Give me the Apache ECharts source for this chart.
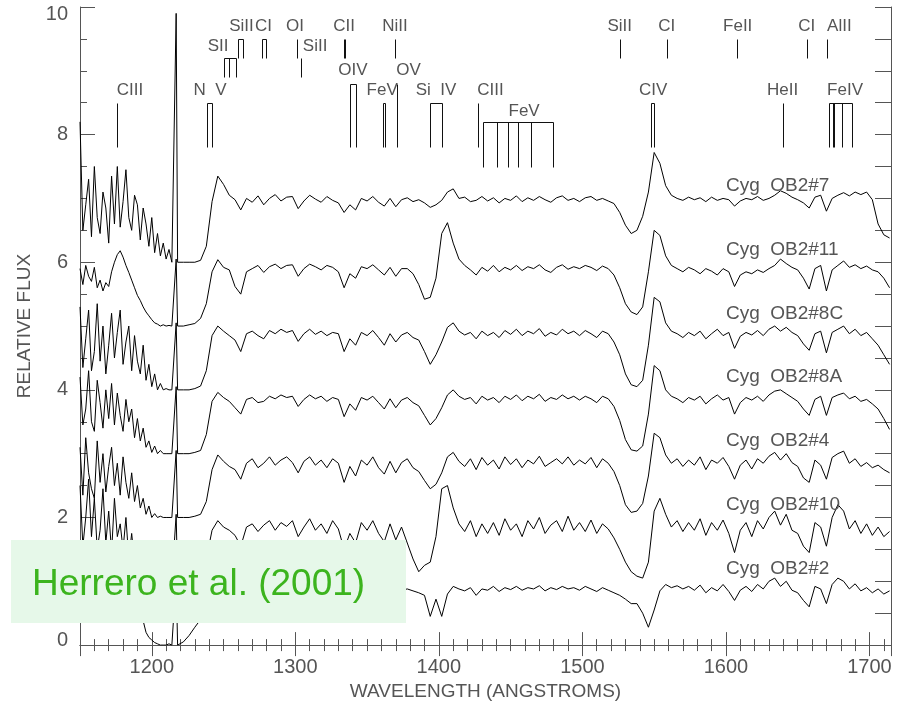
<!DOCTYPE html>
<html><head><meta charset="utf-8">
<script src="https://cdn.jsdelivr.net/npm/echarts@6/dist/echarts.min.js"></script>
<style>html,body{margin:0;padding:0;background:#fff}#c{width:898px;height:706px}</style>
</head><body><div id="c"></div>
<script>
// wavelength grid (Angstrom)
const wave = [1150,1152,1154,1156,1158,1160,1162,1164,1166,1168,1170,1172,1174,1176,1178,1180,1182,1184,1186,1188,1190,1192,1194,1196,1198,1200,1202,1204,1206,1208,1210,1212,1214,
1217,
1218,1222,1226,1230,1234,1238,1242,1246,1250,1254,
1258,1262,1266,1270,1274,1278,1282,1286,1290,1294,
1298,1302,1306,1310,1314,1318,1322,1326,1330,1334,
1338,1342,1346,1350,1354,1358,1362,1366,1370,1374,
1378,1382,1386,1390,1394,1398,1402,1406,1410,1414,
1418,1422,1426,1430,1434,1438,1442,1446,1450,1454,
1458,1462,1466,1470,1474,1478,1482,1486,1490,1494,
1498,1502,1506,1510,1514,1518,1522,1526,1530,1534,
1538,1542,1546,1550,1554,1558,1562,1566,1570,1574,
1578,1582,1586,1590,1594,1598,1602,1606,1610,1614,
1618,1622,1626,1630,1634,1638,1642,1646,1650,1654,
1658,1662,1666,1670,1674,1678,1682,1686,1690,1694,
1698,1702,1706,1710,1714];

// normalized fluxes (continuum ~1, zero = 0)
const f7 = [2.2,0.5,0.9,1.3,0.4,1.5,0.7,0.45,1.1,0.85,0.3,1.35,0.6,1.5,0.55,0.95,1.45,0.7,0.5,1.05,0.9,0.35,0.85,0.6,0.25,0.7,0.15,0.45,0.1,0.3,0.05,0.2,0.0,
3.9,
0,0,0,0,0.03,0.25,0.95,1.35,1.22,1.05,
0.98,0.82,1.0,0.94,1.04,0.9,1.0,1.06,0.96,1.02,
1.03,0.84,0.96,1.05,0.99,0.94,1.03,0.97,0.93,0.78,
0.9,0.82,1.0,0.96,1.03,0.94,0.88,1.0,0.87,0.98,
1.01,0.95,0.98,0.93,0.86,0.9,0.97,1.1,1.15,1.0,
1.02,0.95,0.97,1.03,0.96,1.01,0.93,1.0,0.97,1.04,
0.95,1.01,0.97,1.03,0.98,0.94,1.01,1.04,0.97,1.0,
0.95,1.01,1.03,0.97,1.0,0.96,0.92,0.78,0.58,0.45,
0.5,0.72,1.1,1.72,1.55,1.2,1.05,1.0,0.97,1.02,
0.98,1.01,0.95,1.02,0.97,1.0,0.98,0.88,0.96,1.0,
0.98,1.03,0.97,1.0,1.05,1.12,1.08,1.02,0.98,0.93,
0.85,1.02,1.05,0.8,1.0,1.05,1.09,1.04,1.1,1.06,
1.1,0.98,0.6,0.43,0.38];

const f11 = [0.9,0.65,0.95,0.78,0.7,0.92,0.6,0.72,0.55,0.68,0.62,0.85,1.0,1.12,1.18,1.08,0.95,0.84,0.72,0.6,0.48,0.4,0.3,0.22,0.16,0.1,0.05,0.03,0.0,0.02,0.0,0.01,0.0,
1.05,
0,0,0.02,0.04,0.12,0.35,0.85,1.04,0.92,0.88,
0.62,0.5,0.85,0.9,0.95,0.84,0.93,0.97,0.9,0.95,
0.96,0.78,0.9,0.97,0.93,0.88,0.95,0.92,0.85,0.6,
0.82,0.75,0.93,0.9,0.96,0.88,0.8,0.92,0.78,0.9,
0.9,0.82,0.65,0.42,0.45,0.75,1.45,1.62,1.3,1.05,
0.95,0.88,0.8,0.92,0.86,0.95,0.85,0.92,0.88,0.95,
0.87,0.93,0.9,0.96,0.88,0.84,0.92,0.96,0.89,0.93,
0.9,0.95,0.92,0.87,0.94,0.9,0.8,0.6,0.35,0.22,
0.18,0.3,0.85,1.5,1.42,1.1,0.95,0.9,0.85,0.92,
0.88,0.82,0.9,0.86,0.8,0.9,0.85,0.62,0.8,0.85,
0.82,0.88,0.84,0.9,0.95,1.05,0.98,0.92,0.88,0.75,
0.58,0.9,0.95,0.55,0.88,0.95,1.02,0.92,0.96,0.9,
0.94,0.88,0.85,0.75,0.6];

const f8C = [1.3,0.35,0.8,1.25,0.3,0.6,1.35,0.45,1.0,0.25,0.7,1.2,0.5,0.9,1.25,0.4,0.75,1.0,0.3,0.85,0.45,0.25,0.7,0.15,0.4,0.05,0.25,0.0,0.1,0.0,0.02,0.0,0.0,
1.05,
0,0,0,0.02,0.06,0.3,0.85,1.0,0.92,0.85,
0.78,0.6,0.88,0.92,0.85,0.8,0.93,0.88,0.95,0.9,
0.93,0.76,0.88,0.95,0.87,0.92,0.85,0.9,0.88,0.6,
0.8,0.7,0.9,0.85,0.93,0.82,0.7,0.88,0.75,0.86,
0.9,0.82,0.78,0.6,0.4,0.55,0.75,0.98,1.05,0.92,
0.86,0.9,0.8,0.92,0.85,0.9,0.82,0.93,0.87,0.95,
0.85,0.92,0.88,0.96,0.84,0.9,0.86,0.95,0.88,0.92,
0.85,0.93,0.88,0.82,0.92,0.88,0.75,0.55,0.25,0.08,
0.05,0.15,0.7,1.45,1.38,1.05,0.92,0.88,0.82,0.9,
0.85,0.92,0.8,0.88,0.95,0.85,0.9,0.65,0.84,0.9,
0.86,0.93,0.85,0.95,1.0,0.92,0.98,0.9,0.85,0.72,
0.62,0.88,0.92,0.58,0.9,0.95,1.0,0.88,0.95,0.85,
0.9,0.8,0.7,0.55,0.4];

const f8A = [1.2,0.45,0.7,1.3,0.5,0.35,1.15,0.8,0.4,1.0,0.55,1.1,0.45,0.95,0.6,0.35,0.85,0.5,0.7,0.25,0.55,0.2,0.4,0.1,0.2,0.02,0.12,0.0,0.05,0.0,0.0,0.0,0.0,
1.05,
0,0,0,0.02,0.05,0.3,0.82,0.96,0.88,0.82,
0.72,0.62,0.85,0.88,0.8,0.82,0.9,0.86,0.92,0.88,
0.9,0.74,0.85,0.92,0.86,0.9,0.82,0.88,0.85,0.58,
0.78,0.68,0.88,0.84,0.9,0.8,0.7,0.86,0.72,0.84,
0.88,0.8,0.75,0.6,0.45,0.55,0.72,0.92,1.0,0.9,
0.85,0.88,0.78,0.9,0.84,0.88,0.8,0.9,0.85,0.92,
0.83,0.9,0.86,0.93,0.82,0.88,0.85,0.92,0.86,0.9,
0.84,0.9,0.86,0.8,0.9,0.86,0.74,0.52,0.22,0.06,
0.04,0.12,0.62,1.38,1.3,1.0,0.9,0.86,0.8,0.88,
0.84,0.9,0.78,0.86,0.92,0.84,0.88,0.62,0.8,0.88,
0.84,0.9,0.82,0.92,0.98,1.0,0.94,0.88,0.82,0.7,
0.6,0.85,0.9,0.6,0.88,0.92,0.95,0.86,0.9,0.82,
0.85,0.78,0.7,0.55,0.38];

const f4 = [1.1,0.35,1.25,0.7,0.45,0.3,1.2,0.55,1.0,0.4,0.8,1.1,0.5,0.85,0.35,0.95,0.55,0.3,0.7,0.25,0.5,0.15,0.3,0.05,0.18,0.0,0.06,0.0,0.02,0.0,0.0,0.0,0.0,
1.05,
0,0,0,0.02,0.05,0.25,0.75,0.98,0.88,0.8,
0.75,0.6,0.85,0.92,0.78,0.85,0.95,0.82,0.9,0.95,
0.86,0.7,0.88,0.95,0.82,0.9,0.78,0.92,0.85,0.55,
0.8,0.65,0.9,0.82,0.95,0.78,0.68,0.88,0.7,0.86,
0.92,0.78,0.72,0.58,0.45,0.52,0.7,0.95,1.02,0.88,
0.8,0.92,0.75,0.94,0.82,0.9,0.76,0.95,0.83,0.92,
0.78,0.9,0.84,0.96,0.8,0.86,0.92,0.84,0.95,0.82,
0.9,0.84,0.94,0.78,0.92,0.85,0.72,0.5,0.2,0.08,
0.1,0.22,0.65,1.32,1.25,0.98,0.85,0.92,0.8,0.9,
0.82,0.95,0.75,0.9,0.85,0.94,0.8,0.6,0.82,0.9,
0.76,0.92,0.85,0.96,1.02,0.9,1.0,0.86,0.8,0.62,
0.55,0.9,0.82,0.6,0.94,1.0,1.04,0.85,0.92,0.8,
0.86,0.78,0.82,0.75,0.7];

const f10 = [1.5,0.55,1.0,1.6,0.7,1.3,0.5,0.8,1.45,0.6,1.1,0.45,1.3,0.7,0.9,0.5,1.0,0.35,0.75,0.3,0.55,0.2,0.3,0.1,0.15,0.02,0.05,0.0,0.0,0.0,0.0,0.0,0.0,
1.05,
0,0,0,0.03,0.1,0.35,0.8,0.95,0.85,0.8,
0.72,0.55,0.85,0.9,0.78,0.88,0.95,0.8,0.92,0.86,
0.95,0.7,0.85,0.98,0.8,0.9,0.75,0.95,0.82,0.5,
0.75,0.6,0.92,0.8,0.95,0.75,0.62,0.9,0.65,0.85,
0.6,0.35,0.15,0.25,0.3,0.7,1.45,1.5,1.15,0.9,
0.78,0.95,0.7,0.9,0.75,0.92,0.72,0.98,0.8,0.9,
0.7,0.95,0.82,1.0,0.75,0.88,0.95,0.78,1.02,0.8,
0.92,0.78,0.96,0.75,0.9,0.82,0.68,0.5,0.3,0.15,
0.08,0.05,0.3,1.1,1.3,1.05,0.85,0.95,0.78,0.92,
0.8,0.98,0.72,0.92,0.8,0.96,0.75,0.45,0.8,0.92,
0.7,0.95,0.82,1.0,1.1,0.88,1.05,0.8,0.75,0.55,
0.45,0.92,0.85,0.55,1.0,1.2,1.1,0.82,0.95,0.75,
0.9,0.72,0.85,0.7,0.78];

const f2 = [1.2,0.55,1.1,0.8,0.45,1.3,0.7,1.0,0.55,1.2,0.65,0.95,0.5,1.1,0.75,0.55,0.9,0.6,0.75,0.5,0.6,0.45,0.38,0.2,0.12,0.08,0.04,0.02,0.0,0.0,0.0,0.02,0.0,
1.05,
0.0,0.05,0.15,0.28,0.4,0.55,0.7,0.8,0.85,0.8,
0.75,0.7,0.85,0.88,0.82,0.86,0.9,0.84,0.88,0.9,
0.86,0.78,0.88,0.92,0.85,0.9,0.84,0.88,0.86,0.65,
0.82,0.78,0.9,0.86,0.92,0.84,0.8,0.88,0.82,0.86,
0.88,0.85,0.82,0.78,0.45,0.72,0.45,0.8,0.92,0.88,
0.85,0.9,0.78,0.88,0.86,0.92,0.84,0.9,0.87,0.92,
0.86,0.9,0.88,0.93,0.85,0.9,0.87,0.92,0.88,0.9,
0.86,0.92,0.88,0.84,0.9,0.86,0.82,0.78,0.72,0.65,
0.65,0.5,0.28,0.55,0.85,0.95,0.9,0.93,0.88,0.92,
0.86,0.94,0.82,0.9,0.85,0.95,0.84,0.7,0.86,0.92,
0.84,0.95,0.88,1.0,1.05,0.92,1.0,0.86,0.82,0.7,
0.6,0.92,0.88,0.65,0.95,1.05,1.0,0.88,0.96,0.85,
0.9,0.82,0.88,0.8,0.85];

const spectra = [f7, f11, f8C, f8A, f4, f10, f2];
const zeroLevels = [6, 5, 4, 3, 2, 1, 0];
const starNames = ['Cyg  OB2#7','Cyg  OB2#11','Cyg  OB2#8C','Cyg  OB2#8A','Cyg  OB2#4','Cyg  OB2#10','Cyg  OB2#2'];

// line identifications
const lineIons = ['CIII','N  V','SII','SiII','CI','OI','SiII','CII','NiII','OIV','FeV','OV','Si  IV','CIII','FeV','SiII','CI','FeII','CI','AlII','CIV','HeII','FeIV'];
const lineWaves = [
  [1175.8],[1238.5,1242.0],[1250.3,1253.8,1258.7],[1260.0,1263.6],[1276.8,1279.6],[1301.2],[1304.0],
  [1333.8,1334.6],[1369.5],[1338.2,1342.3],[1361.1,1362.5],[1370.9],[1393.9,1402.3],[1427.4],
  [1430.8,1440.5,1448.2,1455.2,1464.3,1479.6],[1526.3],[1559.0],[1607.8],[1656.6],[1670.6],
  [1547.9,1550.0],[1639.9],[1672.0,1674.7,1675.5,1681.0,1688.0]
];

// layout of the identification ticks: [top, bottom, joined, label wavelength, label height]
const R = {tl:9.69, th:9.5, tb:9.2, ml:9.38, mb:8.9, ol:9.0, oh:8.8, l3:8.69, h3:8.5, lo:7.8, fl:8.36, fh:8.2, fb:7.5};
const lineLayout = [
  [R.h3,R.lo,0,1184.8,R.l3],[R.h3,R.lo,1,1240.6,R.l3],[R.tb,R.mb,1,1246.2,R.ml],[R.th,R.tb,1,1262.5,R.tl],
  [R.th,R.tb,1,1277.9,R.tl],[R.th,R.tb,0,1299.8,R.tl],[R.tb,R.mb,0,1313.8,R.ml],[R.th,R.tb,0,1334.0,R.tl],
  [R.th,R.tb,0,1369.5,R.tl],[R.oh,R.lo,1,1340.2,R.ol],[R.h3,R.lo,1,1360.5,R.l3],[R.oh,R.lo,0,1378.9,R.ol],
  [R.h3,R.lo,1,1398.0,R.l3],[R.h3,R.lo,0,1436.0,R.l3],[R.fh,R.fb,1,1459.4,R.fl],[R.th,R.tb,0,1526.0,R.tl],
  [R.th,R.tb,0,1558.7,R.tl],[R.th,R.tb,0,1608.2,R.tl],[R.th,R.tb,0,1656.3,R.tl],[R.th,R.tb,0,1679.0,R.tl],
  [R.h3,R.lo,1,1549.3,R.l3],[R.h3,R.lo,0,1639.5,R.l3],[R.h3,R.lo,1,1683.0,R.l3]
];

const TXT = '#555';
const FONT = '"Liberation Sans", Arial, sans-serif';

const chart = echarts.init(document.getElementById('c'), null, {renderer:'canvas'});

const specSeries = spectra.map((f, k) => ({
  type: 'line', name: starNames[k],
  data: wave.map((w, i) => [w, +(f[i] + zeroLevels[k]).toFixed(3)]),
  showSymbol: false, symbol: 'none', clip: true,
  lineStyle: {color: '#000', width: 1}, z: 3, silent: true
}));

const markerSeries = {
  type: 'custom', silent: true, z: 4,
  data: lineIons.map((_, i) => i),
  renderItem: function (params, api) {
    const i = params.dataIndex;
    const ws = lineWaves[i], L = lineLayout[i];
    const ch = [];
    ws.forEach(w => {
      const a = api.coord([w, L[0]]), b = api.coord([w, L[1]]);
      const x = Math.round(a[0]) + 0.5;
      ch.push({type:'line', shape:{x1:x, y1:Math.round(a[1])+0.5, x2:x, y2:Math.round(b[1])+0.5}, style:{stroke:'#111', lineWidth:1}});
    });
    if (L[2] && ws.length > 1) {
      const a = api.coord([ws[0], L[0]]), b = api.coord([ws[ws.length-1], L[0]]);
      const y = Math.round(a[1]) + 0.5;
      ch.push({type:'line', shape:{x1:Math.round(a[0])+0.5, y1:y, x2:Math.round(b[0])+0.5, y2:y}, style:{stroke:'#111', lineWidth:1}});
    }
    const p = api.coord([L[3], L[4]]);
    ch.push({type:'text', style:{text: lineIons[i], x: p[0], y: p[1], align:'center', verticalAlign:'middle', fill: TXT, font: '17px ' + FONT}});
    return {type:'group', children: ch};
  }
};

const nameSeries = {
  type: 'custom', silent: true, z: 5,
  data: starNames.map((_, k) => k),
  renderItem: function (params, api) {
    const k = params.dataIndex;
    const p = api.coord([1600, zeroLevels[k] + 1.2]);
    return {type:'text', style:{text: starNames[k], x: p[0], y: p[1], align:'left', verticalAlign:'middle', fill: TXT, font: '19px ' + FONT}};
  }
};

const axisCol = '#555';
chart.setOption({
  animation: false,
  backgroundColor: '#fff',
  grid: {left: 80, right: 7, top: 7, bottom: 58, containLabel: false},
  xAxis: [{
    type: 'value', position: 'bottom', min: 1150, max: 1715, splitNumber: 5,
    axisLine: {show: true, lineStyle: {color: axisCol, width: 1}},
    axisTick: {show: true, inside: true, length: 13, lineStyle: {color: axisCol}},
    minorTick: {show: true, splitNumber: 10, length: 6, lineStyle: {color: axisCol}},
    splitLine: {show: false}, minorSplitLine: {show: false},
    axisLabel: {color: TXT, fontSize: 20, fontFamily: FONT, margin: 12, formatter: v => (v % 100 === 0 ? String(v) : '')},
    name: 'WAVELENGTH (ANGSTROMS)', nameLocation: 'middle', nameGap: 35,
    nameTextStyle: {color: TXT, fontSize: 19, fontFamily: FONT}
  }, {
    type: 'value', position: 'top', min: 1150, max: 1715, splitNumber: 5,
    axisLine: {show: true, lineStyle: {color: axisCol, width: 1}},
    axisTick: {show: true, inside: true, length: 11, lineStyle: {color: axisCol}},
    minorTick: {show: true, splitNumber: 10, length: 6, lineStyle: {color: axisCol}},
    splitLine: {show: false}, axisLabel: {show: false}
  }],
  yAxis: [{
    type: 'value', position: 'left', min: 0, max: 10, interval: 2,
    axisLine: {show: true, lineStyle: {color: axisCol, width: 1}},
    axisTick: {show: true, inside: true, length: 15, lineStyle: {color: axisCol}},
    minorTick: {show: true, splitNumber: 4, length: 7, lineStyle: {color: axisCol}},
    splitLine: {show: false},
    axisLabel: {color: TXT, fontSize: 20, fontFamily: FONT, margin: 12,
      formatter: v => v === 10 ? '{a|10}' : (v === 0 ? '{b|0}' : String(v)),
      rich: {a: {fontSize: 20, fontFamily: FONT, color: TXT, padding: [14,0,0,0]},
             b: {fontSize: 20, fontFamily: FONT, color: TXT, padding: [0,0,10,0]}}},
    name: 'RELATIVE FLUX', nameLocation: 'middle', nameGap: 46, nameRotate: 90,
    nameTextStyle: {color: TXT, fontSize: 19, fontFamily: FONT}
  }, {
    type: 'value', position: 'right', min: 0, max: 10, interval: 0.5,
    axisLine: {show: true, lineStyle: {color: axisCol, width: 1}},
    axisTick: {show: true, inside: true, length: 16, lineStyle: {color: axisCol}},
    splitLine: {show: false}, axisLabel: {show: false}
  }],
  series: specSeries.concat([markerSeries, nameSeries]),
  graphic: [{
    type: 'group', z: 100,
    children: [
      {type: 'rect', shape: {x: 11, y: 540, width: 395, height: 83}, style: {fill: '#e6f8e9'}, z: 100},
      {type: 'text', style: {text: 'Herrero et al. (2001)', x: 32, y: 585, verticalAlign: 'middle', fill: '#3cb41e', font: '37px ' + FONT}, z: 101}
    ]
  }]
});
</script>
</body></html>
